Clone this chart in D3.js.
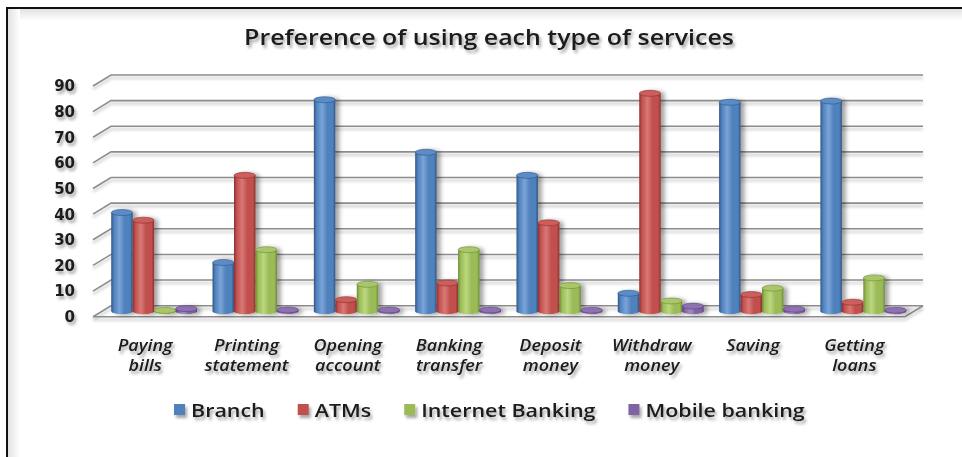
<!DOCTYPE html>
<html>
<head>
<meta charset="utf-8">
<script src="https://cdn.jsdelivr.net/npm/d3@7/dist/d3.min.js"></script>
<style>
  html, body { margin: 0; padding: 0; background: #fff; }
  svg { display: block; }
</style>
</head>
<body>
<svg id="chart" width="962" height="457"></svg>
<script>
// Chart data
const categories = ["Paying bills", "Printing statement", "Opening account", "Banking transfer",
                    "Deposit money", "Withdraw money", "Saving", "Getting loans"];
const seriesNames = ["Branch", "ATMs", "Internet Banking", "Mobile banking"];
const branch   = [38.5, 19, 82.5, 62, 53, 7, 81.5, 82];
const atms     = [35.5, 53, 4.5, 11, 34.5, 85, 6.5, 3.5];
const internet = [0.3, 24, 10.5, 24, 10, 4, 9, 13];
const mobile   = [1, 0.5, 0.5, 0.5, 0.4, 2, 0.8, 0.4];
const yTicks   = [0, 10, 20, 30, 40, 50, 60, 70, 80, 90];
const titleText = "Preference of using each type of services";

const seriesValues = [branch, atms, internet, mobile];
const palette = [
  { base: "#4F81BD", dark: "#2f5482", light: "#7aa4d8", top: "#5b8cc8" },
  { base: "#C0504D", dark: "#8a2f2d", light: "#d97976", top: "#cc5e5b" },
  { base: "#9BBB59", dark: "#6b8a32", light: "#bcd77f", top: "#a9c768" },
  { base: "#8064A2", dark: "#56407a", light: "#a58bc4", top: "#8e72b0" }
];

const svg = d3.select("#chart");
const defs = svg.append("defs");

// soft shadows used by text, grid and bars
function shadow(id, dx, dy, sd, op) {
  const f = defs.append("filter").attr("id", id)
    .attr("x", "-20%").attr("y", "-40%").attr("width", "150%").attr("height", "200%");
  f.append("feDropShadow").attr("dx", dx).attr("dy", dy).attr("stdDeviation", sd)
    .attr("flood-color", "#000").attr("flood-opacity", op);
}
shadow("textShadow", 2, 3, 1.8, 0.35);
shadow("lineShadow", 0, 3, 1.5, 0.25);
shadow("barShadow", 4, 1, 2, 0.35);

// cylinder shading gradients
palette.forEach((c, i) => {
  const g = defs.append("linearGradient").attr("id", "cyl" + i)
    .attr("x1", "0%").attr("x2", "100%").attr("y1", "0%").attr("y2", "0%");
  [[0, c.dark], [0.12, c.base], [0.38, c.light], [0.62, c.base], [0.88, c.base], [1, c.dark]]
    .forEach(([o, col]) => g.append("stop").attr("offset", o).attr("stop-color", col));
});

// frame with inner shading on top/left
svg.append("rect").attr("x", 0).attr("y", 0).attr("width", 962).attr("height", 457).attr("fill", "#fff");
const topShade = defs.append("linearGradient").attr("id", "topShade")
  .attr("x1", 0).attr("x2", 0).attr("y1", 0).attr("y2", 1);
topShade.append("stop").attr("offset", 0).attr("stop-color", "#e2e2e2");
topShade.append("stop").attr("offset", 1).attr("stop-color", "#fff");
const leftShade = defs.append("linearGradient").attr("id", "leftShade")
  .attr("x1", 0).attr("x2", 1).attr("y1", 0).attr("y2", 0);
leftShade.append("stop").attr("offset", 0).attr("stop-color", "#e2e2e2");
leftShade.append("stop").attr("offset", 1).attr("stop-color", "#fff");
svg.append("rect").attr("x", 8).attr("y", 9).attr("width", 960).attr("height", 12).attr("fill", "url(#topShade)");
svg.append("rect").attr("x", 8).attr("y", 9).attr("width", 12).attr("height", 460).attr("fill", "url(#leftShade)");
svg.append("path").attr("d", "M7,470 L7,8 L970,8")
  .attr("fill", "none").attr("stroke", "#111").attr("stroke-width", 2);

// 3-D geometry: back wall and depth offset
const DX = 18, DY = -11;
const backLeft = 111, backRight = 923;
const yBack = d3.scaleLinear().domain([0, 90]).range([305.7, 75]);
const yMid = d3.scaleLinear().domain([0, 90]).range([305.7 - DY / 2, 75 - DY / 2]);

// horizontally widened text, drawn around (x, y)
const STRETCH = 1.16;
function wideText(parent, xPos, yPos, str, anchor) {
  return parent.append("text")
    .attr("transform", `translate(${xPos},${yPos}) scale(${STRETCH},1)`)
    .attr("text-anchor", anchor || "middle")
    .text(str);
}

// title
const titleG = svg.append("g")
  .attr("font-family", "Open Sans").attr("font-weight", 600).attr("font-size", 21.5)
  .attr("fill", "#1a1a1a").attr("filter", "url(#textShadow)");
wideText(titleG, 489, 45, titleText);

// gridlines: back wall lines plus the short side-wall diagonals
const grid = svg.append("g").attr("filter", "url(#lineShadow)")
  .attr("stroke", "#8c8c8c").attr("stroke-width", 1.6).attr("fill", "none");
grid.selectAll("path.g").data(yTicks).join("path")
  .attr("d", d => `M${backLeft - DX},${yBack(d) - DY} L${backLeft},${yBack(d)} L${backRight},${yBack(d)}`);
// floor outline
grid.append("path")
  .attr("d", `M${backLeft - DX},${yBack(0) - DY} L${backRight - DX},${yBack(0) - DY} L${backRight},${yBack(0)}`);

// y tick labels
svg.append("g").selectAll("text").data(yTicks).join("text")
  .attr("x", 75).attr("y", d => yBack(d) - DY)
  .attr("dy", "0.36em")
  .attr("text-anchor", "end")
  .attr("font-family", "DejaVu Sans").attr("font-weight", "bold").attr("font-size", 15)
  .attr("fill", "#1a1a1a").attr("filter", "url(#textShadow)")
  .text(d => d);

// category band (mid depth) and series band within each category
const x = d3.scaleBand().domain(categories).range([backLeft - DX / 2 + 1.5, backRight - DX / 2]);
const xs = d3.scaleBand().domain(seriesNames).range([0, x.bandwidth()]).paddingOuter(0.36).paddingInner(0);

const bars = [];
categories.forEach((c, ci) => {
  seriesNames.forEach((s, si) => {
    bars.push({ c, s, si, v: seriesValues[si][ci] });
  });
});

const ry = 3;
const barG = svg.append("g").attr("filter", "url(#barShadow)");
const cyl = barG.selectAll("g.bar").data(bars).join("g").attr("class", "bar");
cyl.append("path")
  .attr("d", d => {
    const x0 = x(d.c) + xs(d.s), w = xs.bandwidth(), rx = w / 2;
    const yt = yMid(d.v), yb = yMid(0);
    return `M${x0},${yt} L${x0},${yb} A${rx},${ry} 0 0 0 ${x0 + w},${yb} L${x0 + w},${yt} Z`;
  })
  .attr("fill", d => `url(#cyl${d.si})`);
cyl.append("ellipse")
  .attr("cx", d => x(d.c) + xs(d.s) + xs.bandwidth() / 2)
  .attr("cy", d => yMid(d.v))
  .attr("rx", xs.bandwidth() / 2).attr("ry", ry)
  .attr("fill", d => palette[d.si].top)
  .attr("stroke", d => palette[d.si].dark).attr("stroke-width", 0.6);

// category labels, centred under the front edge of each band, one text per line
const catG = svg.append("g")
  .attr("font-family", "Open Sans").attr("font-style", "italic").attr("font-weight", 600)
  .attr("font-size", 15.5).attr("fill", "#1a1a1a").attr("filter", "url(#textShadow)");
categories.forEach(c => {
  const cx = x(c) + x.bandwidth() / 2 - DX / 2;
  c.split(" ").forEach((w, i) => wideText(catG, cx, 351 + i * 20, w));
});

// legend
const legG = svg.append("g").attr("filter", "url(#textShadow)")
  .attr("font-family", "Open Sans").attr("font-weight", 600).attr("font-size", 18.5).attr("fill", "#1a1a1a");
let lx = 174;
const ly = 410;
seriesNames.forEach((s, i) => {
  legG.append("rect").attr("x", lx).attr("y", ly - 6).attr("width", 11).attr("height", 11)
    .attr("fill", palette[i].base);
  const t = wideText(legG, lx + 17, ly + 6.5, s, "start");
  lx += 17 + t.node().getComputedTextLength() * STRETCH + 33;
});
</script>
</body>
</html>
